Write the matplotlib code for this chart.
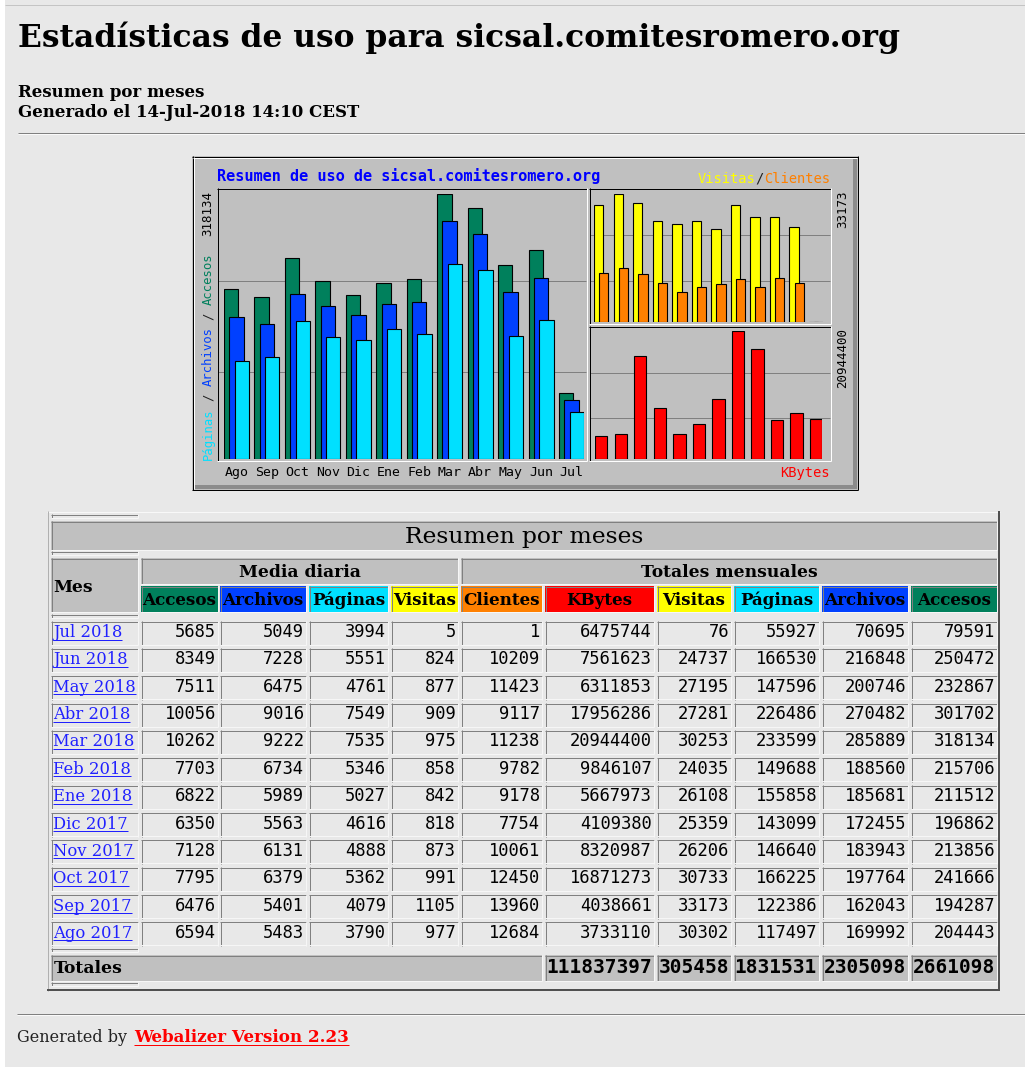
import matplotlib
matplotlib.use("Agg")
import matplotlib.pyplot as plt
from matplotlib.patches import Rectangle
from matplotlib import transforms

W, H = 1025, 1067
SERIF = "DejaVu Serif"
MONO = "DejaVu Sans Mono"

sitio = "sicsal.comitesromero.org"
generado = "Generado el 14-Jul-2018 14:10 CEST"

# tabla, del mes mas reciente al mas antiguo
meses = ["Jul 2018", "Jun 2018", "May 2018", "Abr 2018", "Mar 2018", "Feb 2018",
         "Ene 2018", "Dic 2017", "Nov 2017", "Oct 2017", "Sep 2017", "Ago 2017"]
media_accesos = [5685, 8349, 7511, 10056, 10262, 7703, 6822, 6350, 7128, 7795, 6476, 6594]
media_archivos = [5049, 7228, 6475, 9016, 9222, 6734, 5989, 5563, 6131, 6379, 5401, 5483]
media_paginas = [3994, 5551, 4761, 7549, 7535, 5346, 5027, 4616, 4888, 5362, 4079, 3790]
media_visitas = [5, 824, 877, 909, 975, 858, 842, 818, 873, 991, 1105, 977]
clientes = [1, 10209, 11423, 9117, 11238, 9782, 9178, 7754, 10061, 12450, 13960, 12684]
kbytes = [6475744, 7561623, 6311853, 17956286, 20944400, 9846107, 5667973, 4109380,
          8320987, 16871273, 4038661, 3733110]
visitas = [76, 24737, 27195, 27281, 30253, 24035, 26108, 25359, 26206, 30733, 33173, 30302]
paginas = [55927, 166530, 147596, 226486, 233599, 149688, 155858, 143099, 146640,
           166225, 122386, 117497]
archivos = [70695, 216848, 200746, 270482, 285889, 188560, 185681, 172455, 183943,
            197764, 162043, 169992]
accesos = [79591, 250472, 232867, 301702, 318134, 215706, 211512, 196862, 213856,
           241666, 194287, 204443]
totales = [111837397, 305458, 1831531, 2305098, 2661098]

cabeceras = ["Accesos", "Archivos", "Páginas", "Visitas", "Clientes",
             "KBytes", "Visitas", "Páginas", "Archivos", "Accesos"]

C_ACC, C_ARC, C_PAG = "#00805c", "#0040ff", "#00e0ff"
C_VIS, C_CLI, C_KB = "#ffff00", "#ff8000", "#ff0000"
col_cab = [C_ACC, C_ARC, C_PAG, C_VIS, C_CLI, C_KB, C_VIS, C_PAG, C_ARC, C_ACC]

PX = 0.72  # 1 pixel in points

fig = plt.figure(figsize=(W / 100, H / 100), dpi=100, facecolor="white")
page = fig.add_axes([0, 0, 1, 1])
page.set_xlim(0, W)
page.set_ylim(H, 0)
page.axis("off")


def rect(x0, y0, x1, y1, fc):
    page.add_patch(Rectangle((x0, y0), x1 - x0, y1 - y0, fc=fc, ec="none"))


def hline(x0, x1, y, c, lw=1):
    page.plot([x0, x1], [y, y], color=c, lw=lw * PX, solid_capstyle="butt")


def vline(x, y0, y1, c, lw=1):
    page.plot([x, x], [y0, y1], color=c, lw=lw * PX, solid_capstyle="butt")


def bevel(x0, y0, x1, y1, tl, br, lw=1):
    hline(x0, x1, y0 + lw / 2, tl, lw)
    vline(x0 + lw / 2, y0, y1, tl, lw)
    hline(x0, x1, y1 - lw / 2, br, lw)
    vline(x1 - lw / 2, y0, y1, br, lw)


def cell(x0, y0, x1, y1, fc):
    rect(x0, y0, x1, y1, fc)
    bevel(x0, y0, x1, y1, "#808080", "#f6f6f6")


def underline_text(x, y, s, color, **kw):
    t = page.text(x, y, s, color=color, va="baseline", **kw)
    bb = t.get_window_extent(renderer=fig.canvas.get_renderer())
    hline(x, x + bb.width, y + 2.5, color)
    return t


# fondo de la pagina
rect(5, 0, W, H, "#e8e8e8")
hline(5, W, 4.5, "#c4c4c4")

page.text(18, 47, "Estadísticas de uso para " + sitio, fontfamily=SERIF,
          fontweight="bold", fontsize=22.6, va="baseline")
page.text(18, 97, "Resumen por meses", fontfamily=SERIF, fontweight="bold",
          fontsize=12, va="baseline")
page.text(18, 117, generado, fontfamily=SERIF, fontweight="bold",
          fontsize=12, va="baseline")
hline(18, W, 132.5, "#808080")
hline(18, W, 133.5, "#fafafa")

# ---- grafico ----
rect(192, 156, 858, 490, "#c0c0c0")
bevel(192, 156, 858, 490, "black", "black")
hline(193, 857, 157.5, "white")
vline(193.5, 157, 489, "white")
rect(853, 158, 857, 489, "#8c8c8c")
rect(194, 485, 857, 489, "#8c8c8c")

paneles = [(217, 188, 587, 461, [280.5, 371.5]),
           (589, 188, 831, 324, [234.5, 280.5]),
           (589, 326, 831, 461, [372.5, 417.5])]
for x0, y0, x1, y1, grid in paneles:
    for g in grid:
        hline(x0 + 1, x1 - 1, g, "#808080")
    bevel(x0, y0, x1, y1, "black", "white")


def panel_axes(x0, x1, ytop, ybase):
    a = fig.add_axes([x0 / W, 1 - ybase / H, (x1 - x0) / W, (ybase - ytop) / H])
    a.axis("off")
    a.patch.set_visible(False)
    return a


orden = list(range(len(meses)))[::-1]  # cronologico
xs = list(range(len(meses)))
etiquetas = [meses[i].split()[0] for i in orden]

ax_h = panel_axes(224, 584, 194, 459)
ax_h.set_xlim(0, 11.821)
ax_h.set_ylim(0, max(accesos))
w = 0.473
for off, serie, c in [(0, accesos, C_ACC), (0.174, archivos, C_ARC), (0.348, paginas, C_PAG)]:
    ax_h.bar([x + off for x in xs], [serie[i] for i in orden], w, align="edge",
             color=c, edgecolor="black", linewidth=0.8)

ax_v = panel_axes(594, 823.5, 194, 322)
ax_v.set_xlim(0, 11.74)
ax_v.set_ylim(0, max(visitas))
for off, serie, c in [(0, visitas, C_VIS), (0.26, clientes, C_CLI)]:
    ax_v.bar([x + off for x in xs], [serie[i] for i in orden], 0.48, align="edge",
             color=c, edgecolor="black", linewidth=0.8)

ax_k = panel_axes(595, 822.4, 331, 459)
ax_k.set_xlim(0, 11.634)
ax_k.set_ylim(0, max(kbytes))
ax_k.bar(xs, [kbytes[i] for i in orden], 0.634, align="edge",
         color=C_KB, edgecolor="black", linewidth=0.8)

# textos del grafico
page.text(217, 181, "Resumen de uso de " + sitio, fontfamily=MONO, fontweight="bold",
          fontsize=11, color="#0000ff", va="baseline")
fs = 9.9
adv = 0.602 * fs * 100 / 72
x0 = 830 - 16 * adv
for k, s, c in [(0, "Visitas", C_VIS), (7, "/", "#202020"), (8, "Clientes", C_CLI)]:
    page.text(x0 + k * adv, 183, s, fontfamily=MONO, fontsize=fs, color=c, va="baseline")
page.text(830, 477, "KBytes", fontfamily=MONO, fontsize=fs, color=C_KB,
          ha="right", va="baseline")

tr = transforms.blended_transform_factory(ax_h.transData, page.transData)
for x, lab in zip(xs, etiquetas):
    ax_h.text(x + 0.41, 476, lab, transform=tr, fontfamily=MONO, fontsize=9.5,
              ha="center", va="baseline")

page.text(208, 191, str(max(accesos)), fontfamily=MONO, fontsize=9, rotation=90,
          ha="center", va="top")
page.text(843, 191, str(max(visitas)), fontfamily=MONO, fontsize=9, rotation=90,
          ha="center", va="top")
page.text(843, 328, str(max(kbytes)), fontfamily=MONO, fontsize=9, rotation=90,
          ha="center", va="top")
fs = 8.8
adv = 0.602 * fs * 100 / 72
for k, s, c in [(0, "Páginas", C_PAG), (8, "/", "#202020"), (10, "Archivos", C_ARC),
                (19, "/", "#202020"), (21, "Accesos", C_ACC)]:
    page.text(208, 460 - k * adv, s, fontfamily=MONO, fontsize=fs, color=c,
              rotation=90, ha="center", va="bottom")

# ---- tabla ----
rect(47, 511, 1000, 991, "#e8e8e8")
hline(47, 1000, 511.5, "#f8f8f8")
vline(47.5, 511, 991, "#b0b0b0")
hline(47, 1000, 990, "#505050", 2)
vline(999, 511, 991, "#505050", 2)

for ys in [514, 551, 614, 948, 982]:
    bevel(51, ys, 138, ys + 4, "#808080", "#f6f6f6")

cols = [(141, 218), (220, 306), (309, 388), (391, 458), (461, 542),
        (545, 654), (657, 731), (734, 819), (822, 908), (911, 997)]

cell(51, 521, 997, 550, "#c0c0c0")
page.text(524, 543, "Resumen por meses", fontfamily=SERIF, fontsize=16.8,
          ha="center", va="baseline")
cell(51, 558, 138, 612, "#c0c0c0")
page.text(53, 592, "Mes", fontfamily=SERIF, fontweight="bold", fontsize=12.3,
          va="baseline")
cell(141, 558, 458, 584, "#c0c0c0")
page.text(299.5, 577, "Media diaria", fontfamily=SERIF, fontweight="bold",
          fontsize=12.3, ha="center", va="baseline")
cell(461, 558, 997, 584, "#c0c0c0")
page.text(729, 577, "Totales mensuales", fontfamily=SERIF, fontweight="bold",
          fontsize=12.3, ha="center", va="baseline")
for (a, b), nombre, c in zip(cols, cabeceras, col_cab):
    cell(a, 586, b, 612, c)
    page.text((a + b) / 2, 605, nombre, fontfamily=SERIF, fontweight="bold",
              fontsize=12.1, ha="center", va="baseline")

pitch = 27.36
for r, mes in enumerate(meses):
    top = 621 + r * pitch
    base = 637 + r * pitch
    cell(51, top, 138, top + 24, "#e8e8e8")
    underline_text(53, base, mes, "#2020ff", fontfamily=SERIF, fontsize=11.8)
    fila = [media_accesos[r], media_archivos[r], media_paginas[r], media_visitas[r],
            clientes[r], kbytes[r], visitas[r], paginas[r], archivos[r], accesos[r]]
    for (a, b), v in zip(cols, fila):
        cell(a, top, b, top + 24, "#e8e8e8")
        page.text(b - 2, base, str(v), fontfamily=MONO, fontsize=12.3,
                  ha="right", va="baseline")

cell(51, 955, 542, 981, "#c0c0c0")
page.text(54, 973, "Totales", fontfamily=SERIF, fontweight="bold", fontsize=12.4,
          va="baseline")
for (a, b), v in zip(cols[5:], totales):
    cell(a, 955, b, 981, "#c0c0c0")
    page.text(b - 2, 973, str(v), fontfamily=MONO, fontweight="bold", fontsize=14,
              ha="right", va="baseline")

# ---- pie ----
hline(17, W, 1013.5, "#808080")
hline(17, W, 1014.5, "#fafafa")
page.text(17, 1042, "Generated by ", fontfamily=SERIF, fontsize=11.5,
          va="baseline", color="#222222")
underline_text(134, 1042, "Webalizer Version 2.23", "#ff0000", fontfamily=SERIF,
               fontweight="bold", fontsize=12.1)

fig.savefig("out.png", dpi=100)
